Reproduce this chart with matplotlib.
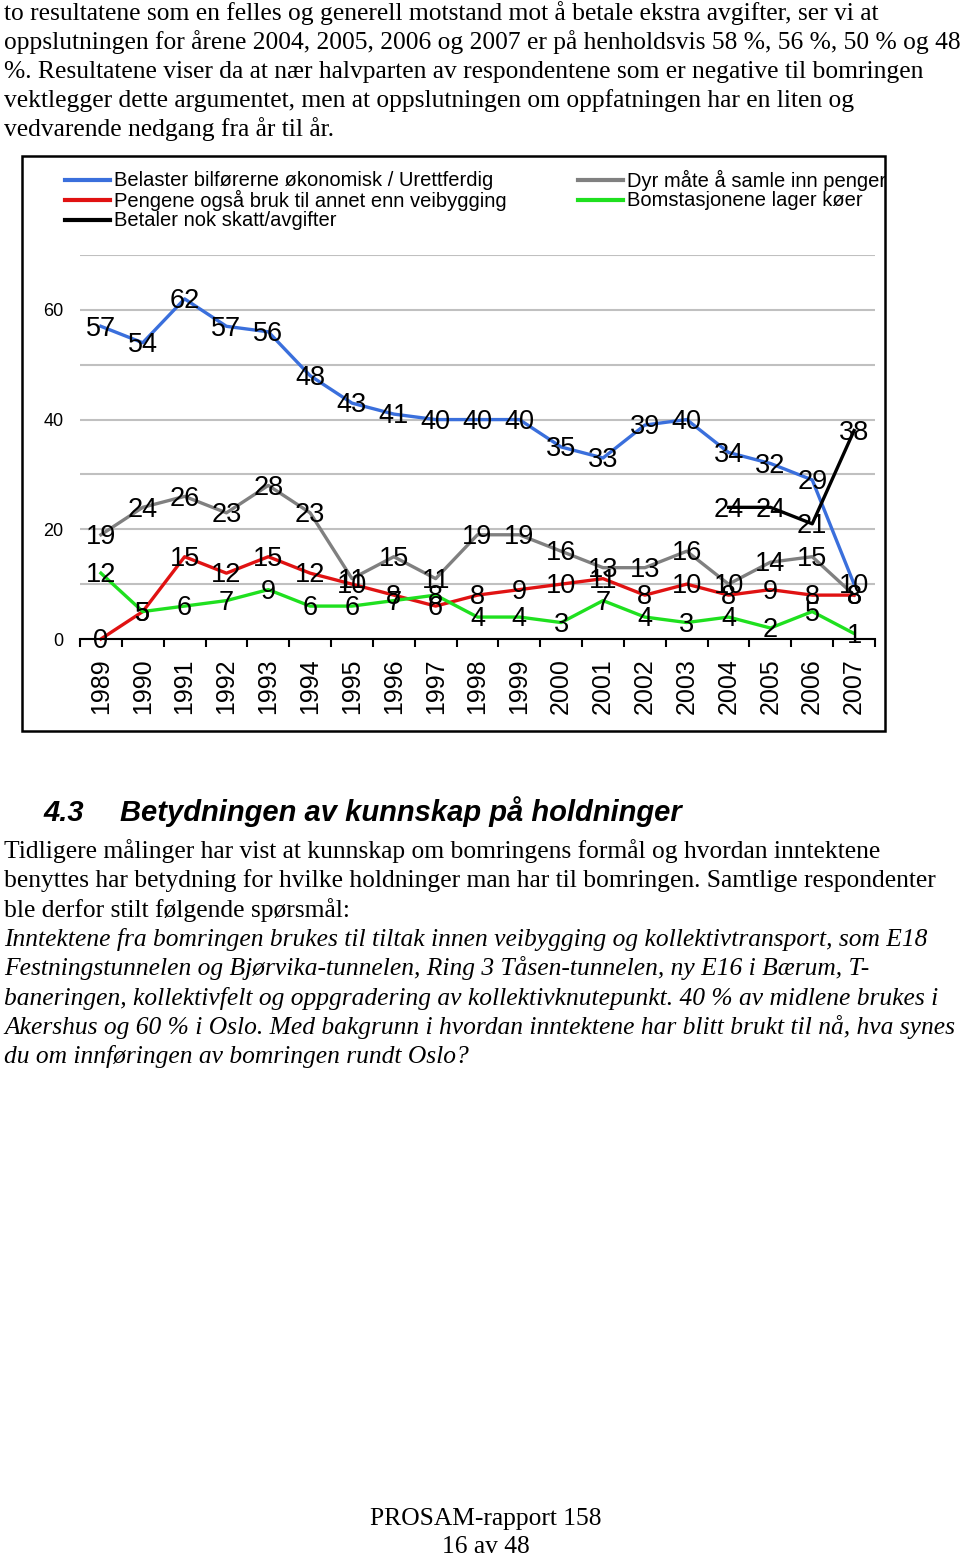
import numpy as np
import matplotlib
matplotlib.use("Agg")
import matplotlib.pyplot as plt
from matplotlib.lines import Line2D
from matplotlib.patches import Rectangle

# Data (percent, 1989-2007)
years = [str(y) for y in range(1989, 2008)]
belaster = [57, 54, 62, 57, 56, 48, 43, 41, 40, 40, 40, 35, 33, 39, 40, 34, 32, 29, 10]
dyr = [19, 24, 26, 23, 28, 23, 11, 15, 11, 19, 19, 16, 13, 13, 16, 10, 14, 15, 8]
pengene = [0, 5, 15, 12, 15, 12, 10, 8, 6, 8, 9, 10, 11, 8, 10, 8, 9, 8, 8]
bomstasjon = [12, 5, 6, 7, 9, 6, 6, 7, 8, 4, 4, 3, 7, 4, 3, 4, 2, 5, 1]
betaler = [None] * 15 + [24, 24, 21, 38]

series_names = ["Belaster bilførerne økonomisk / Urettferdig",
                "Pengene også bruk til annet enn veibygging",
                "Betaler nok skatt/avgifter",
                "Dyr måte å samle inn penger",
                "Bomstasjonene lager køer"]

text_top = [
    "to resultatene som en felles og generell motstand mot å betale ekstra avgifter, ser vi at",
    "oppslutningen for årene 2004, 2005, 2006 og 2007 er på henholdsvis 58 %, 56 %, 50 % og 48",
    "%. Resultatene viser da at nær halvparten av respondentene som er negative til bomringen",
    "vektlegger dette argumentet, men at oppslutningen om oppfatningen har en liten og",
    "vedvarende nedgang fra år til år.",
]
text_body = [
    "Tidligere målinger har vist at kunnskap om bomringens formål og hvordan inntektene",
    "benyttes har betydning for hvilke holdninger man har til bomringen. Samtlige respondenter",
    "ble derfor stilt følgende spørsmål:",
]
text_italic = [
    "Inntektene fra bomringen brukes til tiltak innen veibygging og kollektivtransport, som E18",
    "Festningstunnelen og Bjørvika-tunnelen, Ring 3 Tåsen-tunnelen, ny E16 i Bærum, T-",
    "baneringen, kollektivfelt og oppgradering av kollektivknutepunkt. 40 % av midlene brukes i",
    "Akershus og 60 % i Oslo. Med bakgrunn i hvordan inntektene har blitt brukt til nå, hva synes",
    "du om innføringen av bomringen rundt Oslo?",
]

W, H = 960, 1556
def fx(x):
    return x / W
def fy(y):
    return 1 - y / H

fig = plt.figure(figsize=(W / 100, H / 100), dpi=100)
serif = "Liberation Serif"
sans = "Liberation Sans"
body_size = 18.4

# page text
for i, s in enumerate(text_top):
    fig.text(fx(4), fy(20 + 29 * i), s, family=serif, size=body_size, va="baseline")
fig.text(fx(43), fy(821), "4.3", family=sans, size=21, weight="bold", style="italic", va="baseline")
fig.text(fx(120), fy(821), "Betydningen av kunnskap på holdninger", family=sans, size=21,
         weight="bold", style="italic", va="baseline")
for i, s in enumerate(text_body):
    fig.text(fx(4), fy(858 + 29.3 * i), s, family=serif, size=body_size, va="baseline")
for i, s in enumerate(text_italic):
    fig.text(fx(4), fy(946 + 29.3 * i), s, family=serif, size=body_size, style="italic", va="baseline")
fig.text(fx(486), fy(1525), "PROSAM-rapport 158", family=serif, size=body_size, ha="center", va="baseline")
fig.text(fx(486), fy(1553), "16 av 48", family=serif, size=body_size, ha="center", va="baseline")

# chart frame
frame = Rectangle((fx(22), fy(731)), fx(885) - fx(22), fy(156) - fy(731),
                  transform=fig.transFigure, fill=False, edgecolor="black", lw=1.8)
fig.add_artist(frame)

ax = fig.add_axes([fx(80), fy(639), (875 - 80) / W, (639 - 255) / H])
x = np.arange(len(years))

colors = {"blue": "#3a6fdc", "gray": "#808080", "red": "#e01212", "green": "#1fe01f", "black": "black"}
plot_series = [
    (belaster, colors["blue"]),
    (dyr, colors["gray"]),
    (pengene, colors["red"]),
    (bomstasjon, colors["green"]),
    (betaler, colors["black"]),
]
for vals, col in plot_series:
    v = np.array([np.nan if a is None else a for a in vals], dtype=float)
    ax.plot(x, v, color=col, lw=2.4, clip_on=False, solid_joinstyle="round")
    for xi, vi in zip(x, v):
        if not np.isnan(vi):
            ax.text(xi, vi - 0.4, f"{int(vi)}", ha="center", va="center", family=sans, size=19.5,
                    zorder=5, clip_on=False)

ax.set_xlim(-0.5, len(years) - 0.5)
ax.set_ylim(0, 70)
ax.set_yticks(range(0, 71, 10))
ax.set_yticklabels(["0", "", "20", "", "40", "", "60", ""], family=sans, size=13)
ax.yaxis.grid(True, color="#c0c0c0", lw=1.5)
ax.set_axisbelow(True)
ax.set_xticks(x)
ax.set_xticklabels(years, rotation=90, family=sans, size=18)
ax.set_xticks(np.arange(-0.5, len(years), 1), minor=True)
ax.tick_params(axis="x", which="major", length=0, pad=14)
ax.tick_params(axis="x", which="minor", length=6, width=1.5, color="black")
ax.tick_params(axis="y", length=0, pad=12)
for side in ["top", "right", "left"]:
    ax.spines[side].set_visible(False)
ax.spines["bottom"].set_linewidth(1.5)

# legend, two columns
leg_colors = [colors["blue"], colors["red"], colors["black"], colors["gray"], colors["green"]]
leg_pos = [(65, 180), (65, 200), (65, 220), (578, 180), (578, 200)]
for (lx, ly), col, name in zip(leg_pos, leg_colors, series_names):
    fig.add_artist(Line2D([fx(lx), fx(lx + 45)], [fy(ly), fy(ly)], color=col, lw=3,
                          transform=fig.transFigure))
    t = fig.text(fx(lx + 49), fy(ly), name, family=sans, size=14.5, va="center")
    t.set_clip_path(frame)

fig.savefig("out.png", dpi=100, facecolor="white")
